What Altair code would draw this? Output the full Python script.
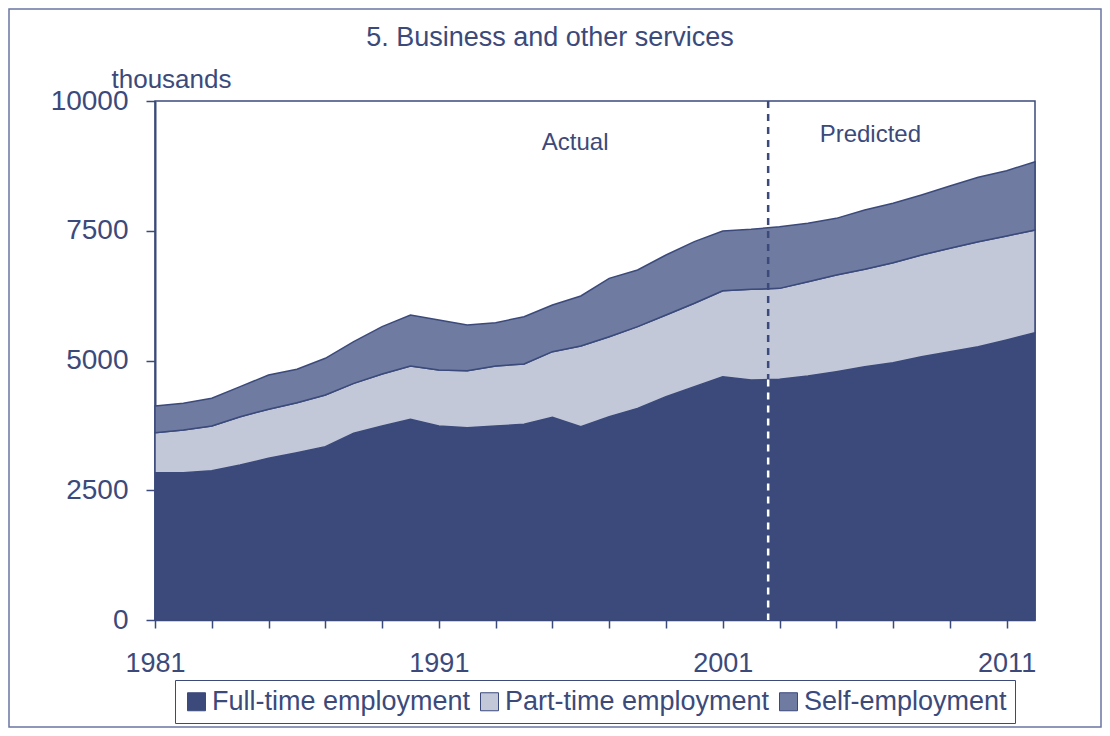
import altair as alt
import pandas as pd

# ---------------- data ----------------
years = list(range(1981, 2013))
full_time = [2838, 2838, 2877, 2987, 3115, 3224, 3340, 3597, 3738, 3867,
             3738, 3705, 3738, 3770, 3905, 3725, 3917, 4078, 4303, 4496,
             4688, 4624, 4637, 4701, 4785, 4881, 4958, 5074, 5170, 5266,
             5395, 5536]
part_time = [771, 823, 861, 930, 945, 963, 995, 963, 1002, 1027,
             1079, 1099, 1156, 1163, 1265, 1554, 1542, 1574, 1574, 1606,
             1657, 1747, 1753, 1818, 1862, 1876, 1927, 1959, 1992, 2024,
             2004, 1978]
self_emp = [514, 514, 534, 579, 661, 643, 707, 802, 912, 983,
            963, 880, 835, 911, 899, 964, 1124, 1092, 1156, 1188,
            1150, 1156, 1188, 1124, 1092, 1143, 1144, 1156, 1200, 1239,
            1258, 1317]

series_names = ["Full-time employment", "Part-time employment", "Self-employment"]
series_order = [0, 1, 2]
series_colors = ["#3b4a7b", "#c3c8d9", "#6f7ba0"]

y_ticks = [0, 2500, 5000, 7500, 10000]
x_label_years = [1981, 1991, 2001, 2011]

forecast_start = [2002.6]
forecast_ft_level = [4632]

annot_text = ["Actual", "Predicted"]
annot_x = [1995.8, 2006.2]
annot_y = [9190, 9345]

chart_title = "5. Business and other services"

NAVY = "#3b4a7b"
FONT = "Liberation Sans"

# ---------------- tables ----------------
rows = []
for name, ordv, vals in zip(series_names, series_order, [full_time, part_time, self_emp]):
    for yr, v in zip(years, vals):
        rows.append({"year": yr, "value": v, "series": name, "ord": ordv})
df = pd.DataFrame(rows)

rule_df = pd.DataFrame({"x": forecast_start, "ft": forecast_ft_level, "base": [0]})
annot_df = pd.DataFrame({"x": annot_x, "y": annot_y, "t": annot_text})
single_df = pd.DataFrame({"t": [chart_title]})

label_expr = "indexof([" + ",".join(str(v) for v in x_label_years) + "], datum.value) >= 0 ? datum.label : ''"

x_enc = alt.X(
    "year:Q",
    scale=alt.Scale(domain=[1981, 2012], nice=False, zero=False),
    axis=alt.Axis(
        values=years, format="d", labelExpr=label_expr, title=None,
        labelFlush=False, labelOverlap=False, labelPadding=22,
        tickSize=8, tickWidth=1.5, tickColor=NAVY,
        domainColor=NAVY, domainWidth=1.5, grid=False,
        labelFont=FONT, labelFontSize=27, labelColor=NAVY,
    ),
)
y_enc = alt.Y(
    "value:Q",
    stack="zero",
    scale=alt.Scale(domain=[0, 10000], nice=False),
    axis=alt.Axis(
        values=y_ticks, format="d", grid=False, tickSize=9, tickWidth=1.5, tickColor=NAVY,
        domainColor=NAVY, domainWidth=2, labelPadding=18,
        labelFont=FONT, labelFontSize=28, labelColor=NAVY,
        title="thousands", titleAngle=0, titleAlign="left",
        titleBaseline="alphabetic", titleX=-44, titleY=-14,
        titleFontSize=26, titleFontWeight="normal", titleColor=NAVY, titleFont=FONT,
    ),
)

areas = alt.Chart(df).mark_area(stroke=NAVY, strokeWidth=1.5, opacity=1).encode(
    x=x_enc,
    y=y_enc,
    order=alt.Order("ord:Q", sort="ascending"),
    color=alt.Color(
        "series:N",
        scale=alt.Scale(domain=series_names, range=series_colors),
        legend=alt.Legend(
            title=None, orient="none", legendX=20, legendY=579,
            direction="horizontal", columns=3,
            symbolType="square", symbolSize=324, symbolStrokeColor=NAVY,
            symbolStrokeWidth=1, symbolOpacity=1,
            labelFontSize=27, labelFont=FONT, labelColor=NAVY, labelLimit=500,
            labelOffset=2, columnPadding=5, padding=8,
            strokeColor=NAVY, fillColor="white",
        ),
    ),
)

rule_navy = alt.Chart(rule_df).mark_rule(
    color=NAVY, strokeWidth=2.5, strokeDash=[7, 6]
).encode(x="x:Q")

rule_white = alt.Chart(rule_df).mark_rule(
    color="white", strokeWidth=2.5, strokeDash=[7, 6]
).encode(x="x:Q", y="ft:Q", y2="base:Q")

annots = alt.Chart(annot_df).mark_text(
    fontSize=24, font=FONT, color=NAVY
).encode(x="x:Q", y="y:Q", text="t:N")

title_mark = alt.Chart(single_df).mark_text(
    fontSize=27, font=FONT, color=NAVY, align="center", baseline="alphabetic"
).encode(x=alt.value(395), y=alt.value(-55), text="t:N")

frame = alt.Chart(single_df).mark_rect(
    fillOpacity=0, stroke="#6a76a0", strokeWidth=1.5
).encode(x=alt.value(-146), x2=alt.value(946), y=alt.value(-92), y2=alt.value(626))

chart = alt.layer(frame, areas, rule_navy, rule_white, annots, title_mark).properties(
    width=880,
    height=519,
    autosize=alt.AutoSizeParams(type="none"),
    padding={"left": 147, "top": 93, "right": 67, "bottom": 108},
    background="white",
).configure_view(
    stroke=NAVY, strokeWidth=1.5
)

chart.save("out.html", embed_options={"renderer": "svg", "actions": False})
